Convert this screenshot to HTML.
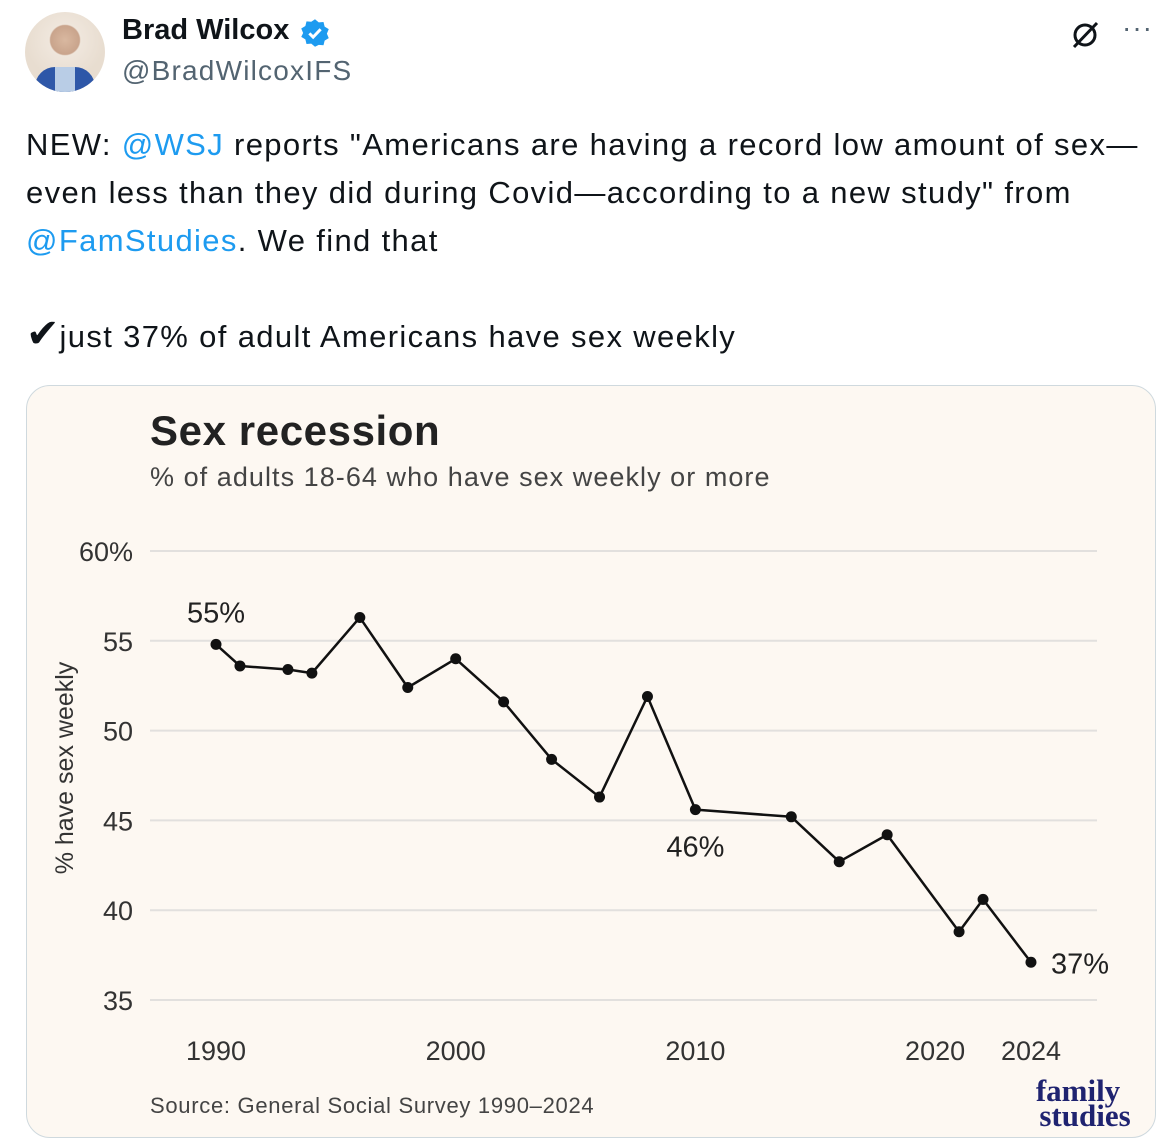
<!DOCTYPE html>
<html><head><meta charset="utf-8">
<style>
html,body{margin:0;padding:0;background:#fff;width:1176px;height:1146px;overflow:hidden;font-family:"Liberation Sans",sans-serif;}
.abs{position:absolute;}
.tweet{font-size:31px;color:#0f1419;line-height:48px;letter-spacing:1.35px;}
.link{color:#1d9bf0;}
</style></head>
<body>
<div class="abs" style="left:25px;top:12px;width:80px;height:80px;border-radius:50%;background:radial-gradient(circle at 50% 35%,#d9b8a0 0,#c9a48c 22%,#efe6dc 24%,#e8ddd0 60%);overflow:hidden;">
 <div style="position:absolute;left:10px;top:55px;width:60px;height:40px;background:#2e57a8;border-radius:20px 20px 0 0;"></div>
 <div style="position:absolute;left:30px;top:55px;width:20px;height:30px;background:#b9cde6;"></div>
</div>
<div class="abs" style="left:122px;top:14px;font-size:29px;font-weight:bold;color:#0f1419;">Brad Wilcox</div>
<svg class="abs" style="left:300px;top:18px" width="30" height="30" viewBox="0 0 24 24"><path d="M12 1l3 2.5 3.8-.3.9 3.7 3.3 2-1.5 3.6 1.5 3.6-3.3 2-.9 3.7-3.8-.3L12 23l-3-2.5-3.8.3-.9-3.7-3.3-2L2.5 12 1 8.4l3.3-2 .9-3.7 3.8.3z" fill="#1d9bf0"/><path d="M7.5 12.3l3 3 6-6.3" stroke="#fff" stroke-width="2.4" fill="none"/></svg>
<div class="abs" style="left:122px;top:55px;font-size:28px;color:#536471;letter-spacing:1.2px;">@BradWilcoxIFS</div>
<svg class="abs" style="left:1068px;top:18px" width="34" height="34" viewBox="0 0 34 34"><circle cx="17" cy="17" r="10" stroke="#0f1419" stroke-width="3" fill="none"/><line x1="6" y1="29" x2="29" y2="5" stroke="#0f1419" stroke-width="3"/></svg>
<div class="abs" style="left:1122px;top:12px;font-size:28px;color:#536471;letter-spacing:1px;">···</div>
<div class="abs tweet" style="left:26px;top:121px;width:1150px;">NEW: <span class="link">@WSJ</span> reports "Americans are having a record low amount of sex—<br>even less than they did during Covid—according to a new study" from<br><span class="link">@FamStudies</span>. We find that<br><br><span style="font-size:40px;line-height:40px;letter-spacing:0">✔</span>just 37% of adult Americans have sex weekly</div>

<div class="abs" style="left:26px;top:385px;width:1128px;height:751px;border:1px solid #cfd9de;border-radius:24px;background:#fdf8f2;overflow:hidden;"></div>
<svg class="abs" id="chart" style="left:0;top:0" width="1176" height="1146">
 <text x="150" y="445" font-size="42" font-weight="bold" fill="#222" letter-spacing="0.6">Sex recession</text>
 <text x="150" y="486" font-size="27" fill="#444" letter-spacing="1.05">% of adults 18-64 who have sex weekly or more</text>
 <text transform="translate(73,768) rotate(-90)" text-anchor="middle" font-size="25" fill="#333">% have sex weekly</text>
 <text x="150" y="1113" font-size="22" fill="#444" letter-spacing="0.7">Source: General Social Survey 1990–2024</text>
 <text x="1078" y="1101" text-anchor="middle" font-family="Liberation Serif,serif" font-weight="bold" font-size="31" fill="#1f2370">family</text>
 <text x="1085" y="1126" text-anchor="middle" font-family="Liberation Serif,serif" font-weight="bold" font-size="31" fill="#1f2370">studies</text>
 <g id="grid"></g><g id="marks"></g>
</svg>
<script>
const years=[1990,1991,1993,1994,1996,1998,2000,2002,2004,2006,2008,2010,2014,2016,2018,2021,2022,2024];
const values=[54.8,53.6,53.4,53.2,56.3,52.4,54.0,51.6,48.4,46.3,51.9,45.6,45.2,42.7,44.2,38.8,40.6,37.1];
const yTicks=[35,40,45,50,55,60];
const yTickLabels=["35","40","45","50","55","60%"];
const xTicks=[1990,2000,2010,2020,2024];
const annotations=[{year:1990,label:"55%",dx:0,dy:-22,anchor:"middle"},{year:2010,label:"46%",dx:0,dy:47,anchor:"middle"},{year:2024,label:"37%",dx:20,dy:11,anchor:"start"}];
const X=y=>216+(y-1990)*23.97;
const Y=v=>551+(60-v)*17.96;
const NS="http://www.w3.org/2000/svg";
const grid=document.getElementById('grid'),marks=document.getElementById('marks');
function mk(tag,attrs,parent){const e=document.createElementNS(NS,tag);for(const k in attrs)e.setAttribute(k,attrs[k]);parent.appendChild(e);return e;}
yTicks.forEach((t,i)=>{
 const l=mk('line',{x1:150,x2:1097,y1:Y(t),y2:Y(t),stroke:'#e2e0de','stroke-width':2},grid);
 
 
 const tx=mk('text',{x:133,y:Y(t)+10,'text-anchor':'end','font-size':27,fill:'#333'},grid);
 tx.textContent=yTickLabels[i];
 
 
});
xTicks.forEach(t=>{
 const tx=mk('text',{x:X(t),y:1060,'text-anchor':'middle','font-size':27,fill:'#333'},grid);
 tx.textContent=t;
 
 
});
const pl=mk('polyline',{points:years.map((y,i)=>X(y)+','+Y(values[i])).join(' '),fill:'none',stroke:'#111','stroke-width':2.5,'stroke-linejoin':'round'},marks);


years.forEach((y,i)=>{
 const c=mk('circle',{cx:X(y),cy:Y(values[i]),r:5.5,fill:'#111'},marks);
 
 
});
annotations.forEach(a=>{
 const i=years.indexOf(a.year);
 const tx=mk('text',{x:X(a.year)+a.dx,y:Y(values[i])+a.dy,'text-anchor':a.anchor,'font-size':29,fill:'#222'},marks);
 tx.textContent=a.label;
 
 
});
</script>
</body></html>
